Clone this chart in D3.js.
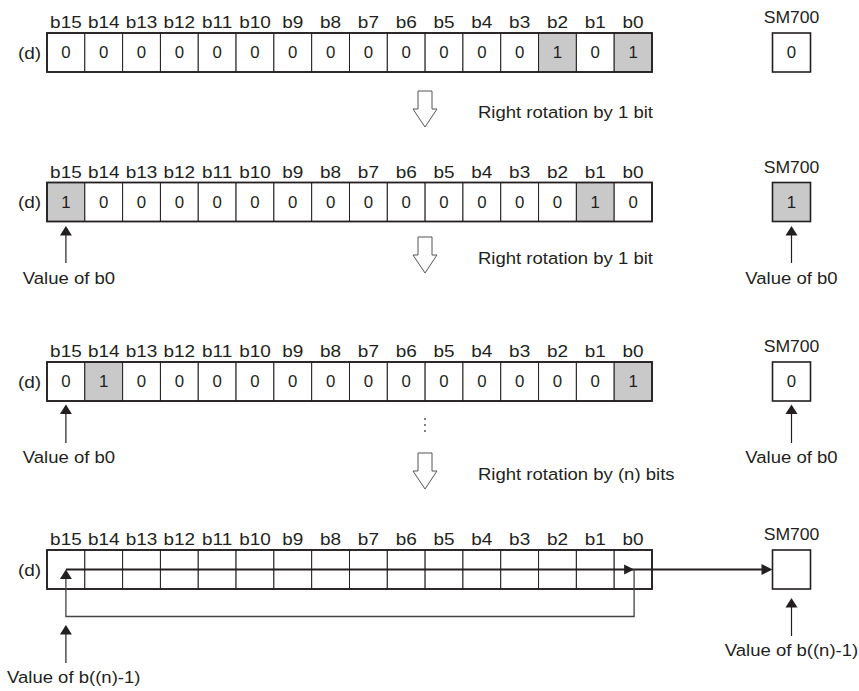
<!DOCTYPE html>
<html>
<head>
<meta charset="utf-8">
<script src="https://cdn.jsdelivr.net/npm/d3@7"></script>
<style>
  html, body { margin: 0; padding: 0; background: #fff; }
  svg { display: block; }
  text { font-family: "Liberation Sans", Arial, Helvetica, sans-serif; fill: #231f20; }
</style>
</head>
<body>
<svg id="chart" width="859" height="691"></svg>
<script>
// ---------- data ----------
const bitLabels = ["b15","b14","b13","b12","b11","b10","b9","b8","b7","b6","b5","b4","b3","b2","b1","b0"];
const row1Bits = [0,0,0,0,0,0,0,0,0,0,0,0,0,1,0,1];
const row2Bits = [1,0,0,0,0,0,0,0,0,0,0,0,0,0,1,0];
const row3Bits = [0,1,0,0,0,0,0,0,0,0,0,0,0,0,0,1];
const row4Bits = [null,null,null,null,null,null,null,null,null,null,null,null,null,null,null,null];
const sm700Values = [0, 1, 0, null];
const deviceLabel = "(d)";
const flagLabel = "SM700";
const stepLabels = ["Right rotation by 1 bit", "Right rotation by 1 bit", "Right rotation by (n) bits"];
const sourceLabels = ["Value of b0", "Value of b0", "Value of b((n)-1)"];

// ---------- layout ----------
const svg = d3.select("#chart");
const x = d3.scaleBand().domain(bitLabels).range([47, 652]).padding(0);
const rowsData = [row1Bits, row2Bits, row3Bits, row4Bits];
const rowTops = [33, 182.5, 362, 550];
const boxH = 39;
const smX = 772.5, smW = 38;
const GRAY = "#c9c9c9";
const INK = "#231f20";

function txt(g, s, tx, ty, size, sx, anchor) {
  return g.append("text")
    .attr("transform", `translate(${tx},${ty}) scale(${sx},1)`)
    .attr("text-anchor", anchor || "middle")
    .style("font-size", size + "px")
    .text(s);
}

function upArrow(g, cx, tipY, lineEnd) {
  g.append("path")
    .attr("d", `M${cx},${tipY} L${cx + 6},${tipY + 9.5} L${cx - 6},${tipY + 9.5} Z`)
    .attr("fill", INK);
  g.append("line")
    .attr("x1", cx).attr("x2", cx)
    .attr("y1", tipY + 9).attr("y2", lineEnd)
    .attr("stroke", INK).attr("stroke-width", 1.2);
}

function hollowArrow(g, cx, top) {
  g.append("path")
    .attr("d", `M${cx - 7},${top} L${cx + 7},${top} L${cx + 7},${top + 18} L${cx + 12},${top + 18} L${cx},${top + 36} L${cx - 12},${top + 18} L${cx - 7},${top + 18} Z`)
    .attr("fill", "#fff").attr("stroke", "#555").attr("stroke-width", 1);
}

rowsData.forEach((bits, r) => {
  const top = rowTops[r];
  const g = svg.append("g");
  // bit labels
  bitLabels.forEach(b => txt(g, b, x(b) + x.bandwidth() / 2, top - 5, 16.5, 1.15));
  // (d)
  txt(g, deviceLabel, 29.5, top + boxH / 2 + 6, 17, 1.12);
  // cells
  g.selectAll("rect.cell").data(bits).enter().append("rect")
    .attr("class", "cell")
    .attr("x", (d, i) => x(bitLabels[i]))
    .attr("y", top)
    .attr("width", x.bandwidth())
    .attr("height", boxH)
    .attr("fill", d => d === 1 ? GRAY : "#fff")
    .attr("stroke", INK).attr("stroke-width", 1);
  g.append("rect")
    .attr("x", x.range()[0]).attr("y", top)
    .attr("width", x.range()[1] - x.range()[0]).attr("height", boxH)
    .attr("fill", "none").attr("stroke", INK).attr("stroke-width", 1.8);
  bits.forEach((d, i) => {
    if (d !== null) txt(g, String(d), x(bitLabels[i]) + x.bandwidth() / 2, top + boxH / 2 + 5.5, 16, 1.05);
  });
  // SM700
  txt(g, flagLabel, smX + smW / 2, top - 10, 16, 1.1);
  g.append("rect")
    .attr("x", smX).attr("y", top).attr("width", smW).attr("height", boxH)
    .attr("fill", sm700Values[r] === 1 ? GRAY : "#fff")
    .attr("stroke", INK).attr("stroke-width", 1.6);
  if (sm700Values[r] !== null) txt(g, String(sm700Values[r]), smX + smW / 2, top + boxH / 2 + 5.5, 16, 1.05);
});

const b15c = x("b15") + x.bandwidth() / 2;
const b0c = x("b0") + x.bandwidth() / 2;
const smC = smX + smW / 2;
const ann = svg.append("g");

// rotation arrows
const arrowTops = [91, 237, 453];
const arrowCx = 425;
arrowTops.forEach((t, i) => {
  hollowArrow(ann, arrowCx, t);
  txt(ann, stepLabels[i], 478, t + 27, 17, 1.09, "start");
});

// vertical ellipsis
[419, 425, 431].forEach(cy => ann.append("circle").attr("cx", arrowCx).attr("cy", cy).attr("r", 0.9).attr("fill", "#444"));

// "Value of b0" arrows rows 2 and 3
[[1, 226, 263, 283.5], [2, 404.5, 443, 462.5]].forEach(([r, tip, end, ty]) => {
  upArrow(ann, b15c, tip, end);
  txt(ann, sourceLabels[r - 1], 69, ty, 17, 1.09);
  upArrow(ann, smC, tip, end);
  txt(ann, sourceLabels[r - 1], smC, ty, 17, 1.09);
});

// row 4 flow
const midY = rowTops[3] + boxH / 2;
ann.append("line").attr("x1", b15c).attr("x2", smX - 8).attr("y1", midY).attr("y2", midY)
  .attr("stroke", INK).attr("stroke-width", 2);
ann.append("path").attr("d", `M${smX},${midY} L${smX - 11},${midY - 5.5} L${smX - 11},${midY + 5.5} Z`).attr("fill", INK);
ann.append("path").attr("d", `M${b0c + 1},${midY} L${b0c - 9},${midY - 5} L${b0c - 9},${midY + 5} Z`).attr("fill", INK);
ann.append("path")
  .attr("d", `M${b0c + 1},${midY} L${b0c + 1},616.5 L${b15c},616.5 L${b15c},${midY + 9}`)
  .attr("fill", "none").attr("stroke", "#444").attr("stroke-width", 1.3);
ann.append("path").attr("d", `M${b15c},${midY} L${b15c + 6},${midY + 9.5} L${b15c - 6},${midY + 9.5} Z`).attr("fill", INK);

upArrow(ann, b15c, 625, 663);
txt(ann, sourceLabels[2], 7, 682.5, 17, 1.09, "start");
upArrow(ann, smC, 598, 636);
txt(ann, sourceLabels[2], smC, 656, 17, 1.09);
</script>
</body>
</html>
